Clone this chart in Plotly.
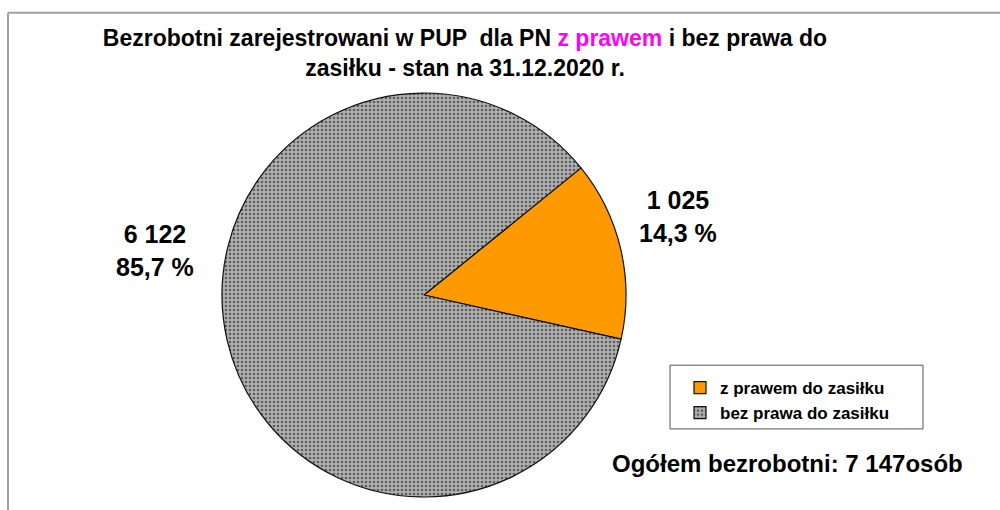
import plotly.graph_objects as go

# dane: bezrobotni z prawem / bez prawa do zasiłku, stan na 31.12.2020
labels = ["z prawem do zasiłku", "bez prawa do zasiłku"]
values = [1025, 6122]
colors = ["#ff9900", "#a9a9a9"]

total = sum(values)


def fmt_num(v):
    return f"{v:,}".replace(",", " ")


def fmt_pct(v):
    return f"{v / total * 100:.1f}".replace(".", ",") + " %"


fig = go.Figure(go.Pie(
    labels=labels,
    values=values,
    sort=False,
    direction="clockwise",
    rotation=51,
    textinfo="none",
    hoverinfo="label+value+percent",
    marker=dict(
        colors=colors,
        line=dict(color="#111111", width=1.2),
        pattern=dict(shape=["", "."], fgcolor=["#ff9900", "#5e5e5e"],
                     bgcolor=["#ff9900", "#b0b0b0"], size=4, solidity=0.35),
    ),
    domain=dict(x=[0.222, 0.626], y=[0.0255, 0.8176]),
))

font = "Liberation Sans, Arial, sans-serif"

fig.update_layout(
    width=1000, height=510,
    margin=dict(l=0, r=0, t=0, b=0),
    paper_bgcolor="white",
    plot_bgcolor="white",
    font=dict(family=font, color="black"),
    title=dict(
        text="<b>Bezrobotni zarejestrowani w PUP  dla PN <span style='color:#ff00ff'>z prawem</span>"
             " i bez prawa do<br>zasiłku - stan na 31.12.2020 r.</b>",
        x=0.465, xanchor="center", y=0.91, yanchor="top",
        font=dict(size=23, family=font, color="black"),
    ),
    legend=dict(
        x=0.68, y=0.2745, xanchor="left", yanchor="top",
        borderwidth=0, bgcolor="rgba(0,0,0,0)",
        font=dict(size=17, family=font, color="black", weight="bold"),
    ),
    shapes=[
        dict(type="line", xref="paper", yref="paper", x0=0.008, x1=1, y0=0.975, y1=0.975,
             line=dict(color="#a0a0a0", width=2)),
        dict(type="line", xref="paper", yref="paper", x0=0.008, x1=0.008, y0=0, y1=0.975,
             line=dict(color="#a0a0a0", width=2)),
        # ramka legendy
        dict(type="rect", xref="paper", yref="paper", x0=0.670, x1=0.923, y0=0.159, y1=0.284,
             line=dict(color="#555555", width=1)),
    ],
)

# etykiety danych
fig.add_annotation(x=0.155, y=0.508, xref="paper", yref="paper", showarrow=False,
                   xanchor="center", yanchor="middle",
                   text=f"<b>{fmt_num(values[1])}<br>{fmt_pct(values[1])}</b>",
                   font=dict(size=25, family=font), align="center")
fig.add_annotation(x=0.678, y=0.576, xref="paper", yref="paper", showarrow=False,
                   xanchor="center", yanchor="middle",
                   text=f"<b>{fmt_num(values[0])}<br>{fmt_pct(values[0])}</b>",
                   font=dict(size=25, family=font), align="center")
fig.add_annotation(x=0.61, y=0.092, xref="paper", yref="paper", showarrow=False,
                   xanchor="left", yanchor="middle",
                   text=f"<b>Ogółem bezrobotni: {fmt_num(total)}osób</b>",
                   font=dict(size=24, family=font))

fig.write_html("out.html", config={"displayModeBar": False},
               post_script="document.body.style.margin='0';")
